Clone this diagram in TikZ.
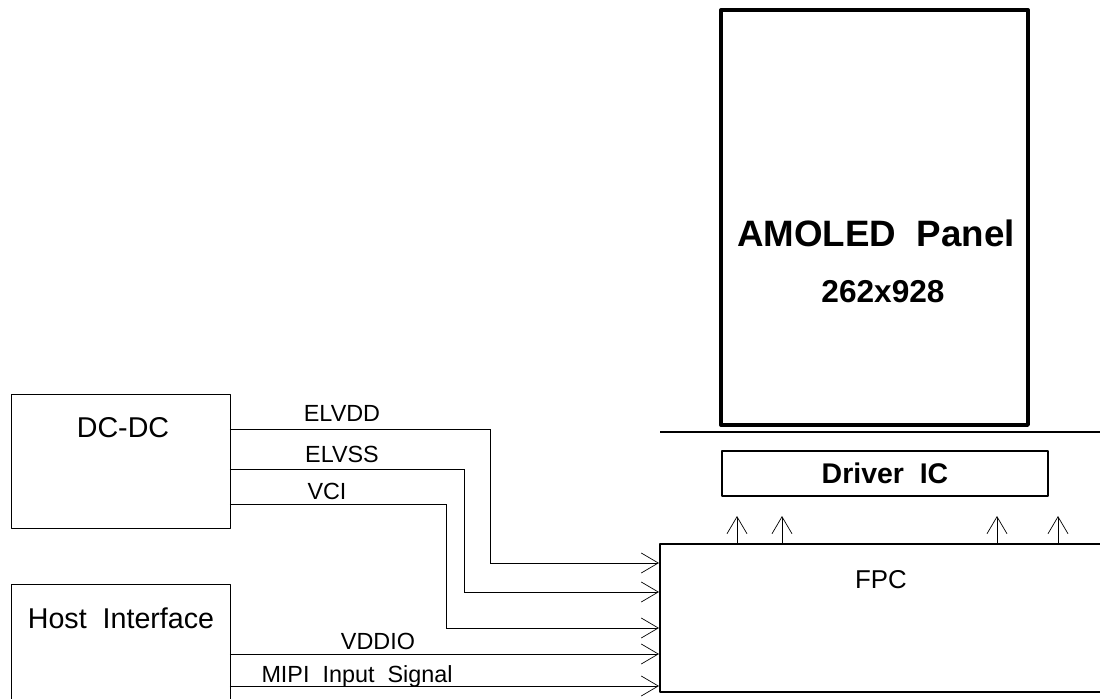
\documentclass[tikz,border=0pt]{standalone}
\usepackage{fontspec}
\setmainfont{Liberation Sans}
\usetikzlibrary{arrows.meta,calc,positioning}

\begin{document}
\begin{tikzpicture}[x=0.02cm, y=-0.02cm]
\tikzset{>={Straight Barb[length=3.4mm,width=4mm]}, line width=1pt,
  blk/.style={draw, anchor=north west, inner sep=0pt, outer sep=0pt, line join=round},
  sig/.style={anchor=base, font=\fontsize{13.3}{16}\selectfont},
  big/.style={anchor=base, font=\fontsize{16.3}{19}\selectfont}}
\useasboundingbox (0,0) rectangle (1100,699);

  % panel and driver side
  \node[blk, line width=2.3pt, minimum width=6.14cm, minimum height=8.3cm] (panel) at (721,10) {};
  \node[anchor=base, font=\bfseries\fontsize{20.9}{24}\selectfont] (ptitle) at (876,247) {AMOLED\ \ Panel};
  \node[anchor=base, font=\bfseries\fontsize{18}{21}\selectfont] (pres) at (883,303) {262x928};
  \coordinate (sepl) at (660,432);
  \coordinate (sepr) at (1110,432);
  \draw[line width=1.7pt] (sepl) -- (sepr);
  \node[blk, line width=1.3pt, minimum width=6.52cm, minimum height=0.9cm] (drv) at (722,451) {};
  \node[anchor=base, font=\bfseries\fontsize{16.2}{19}\selectfont] (drvtxt) at (885,483) {Driver\ \ IC};
  \node[blk, line width=1.3pt, minimum width=9.2cm, minimum height=2.96cm] (fpc) at (660,544) {};
  \node[big, font=\fontsize{14.7}{17}\selectfont] (fpctxt) at (881,588) {FPC};
  \foreach \x in {737,782,997,1058}
    \draw[->] (\x,0 |- fpc.north) -- ++(0,-29);

  % sources
  \node[blk, minimum width=4.38cm, minimum height=2.68cm] (dcdc) at (11,394) {};
  \node[big] (dcdctxt) at (123,438) {DC-DC};
  \node[blk, minimum width=4.38cm, minimum height=2.72cm] (host) at (11,584) {};
  \node[big] (hosttxt) at (121,628) {Host\ \ Interface};

  % power and signal lines
  \draw[->] (dcdc.east |- 0,429) -- (490,429) |- (fpc.west |- 0,563);
  \draw[->] (dcdc.east |- 0,469) -- (464,469) |- (fpc.west |- 0,592);
  \draw[->] (dcdc.east |- 0,504) -- (446,504) |- (fpc.west |- 0,628);
  \draw[->] (host.east |- 0,654) -- (fpc.west |- 0,654);
  \draw[->] (host.east |- 0,686) -- (fpc.west |- 0,686);
  \node[sig] (elvdd) at (342,422) {ELVDD};
  \node[sig] (elvss) at (342,463) {ELVSS};
  \node[sig] (vci) at (327,500) {VCI};
  \node[sig] (vddio) at (378,649) {VDDIO};
  \node[sig] (mipi) at (357,683) {MIPI\ \ Input\ \ Signal};
\end{tikzpicture}
\end{document}
